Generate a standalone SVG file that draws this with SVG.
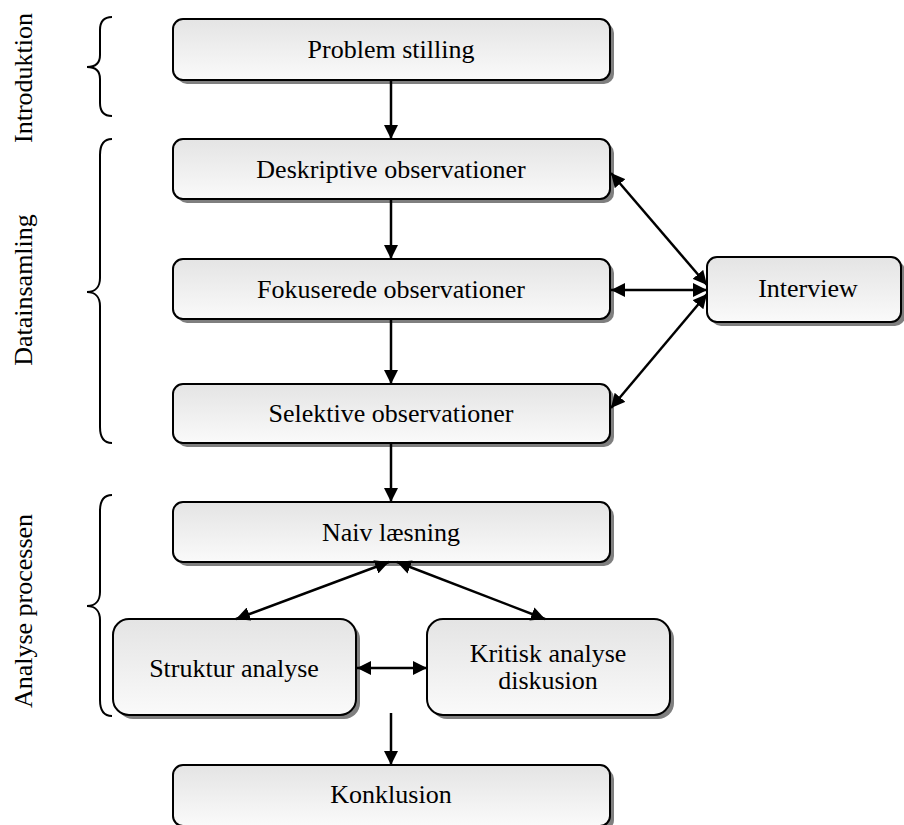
<svg xmlns="http://www.w3.org/2000/svg" width="904" height="825" viewBox="0 0 904 825">
<style>
.sh{fill:#7f7f7f}
.bx{fill:url(#g);stroke:#000;stroke-width:2}
.t{font-family:"Liberation Serif","Times New Roman",serif;font-size:26px;fill:#000;text-anchor:middle}
.c{stroke:#000;stroke-width:2.5;fill:none}
.br{stroke:#000;stroke-width:2;fill:none}
</style>
<defs>
<linearGradient id="g" x1="0" y1="0" x2="0" y2="1">
<stop offset="0" stop-color="#e4e4e4"/>
<stop offset="1" stop-color="#fafafa"/>
</linearGradient>
<marker id="ah" viewBox="0 0 14 14" refX="14" refY="7" markerWidth="14" markerHeight="14" orient="auto-start-reverse" markerUnits="userSpaceOnUse">
<path d="M0,0 L14,7 L0,14 z" fill="#000"/>
</marker>
</defs>

<g id="labels">
<text class="t" transform="translate(32,78) rotate(-90)">Introduktion</text>
<text class="t" transform="translate(32,290) rotate(-90)">Datainsamling</text>
<text class="t" transform="translate(32,611) rotate(-90)">Analyse processen</text>
</g>

<g id="braces">
<path class="br" d="M112,17 C104,17 100,21 100,30 L100,55 C100,63 95,67 87,67 C95,67 100,71 100,79 L100,103 C100,112 104,116 112,116"/>
<path class="br" d="M112,139 C104,139 100,144 100,155 L100,278 C100,287 95,292 87,292 C95,292 100,297 100,306 L100,427 C100,438 104,443 112,443"/>
<path class="br" d="M112,495 C104,495 100,500 100,511 L100,592 C100,601 95,606 87,606 C95,606 100,611 100,620 L100,700 C100,711 104,716 112,716"/>
</g>

<g id="n1">
<rect class="sh" x="177" y="23" width="437" height="61" rx="10"/>
<rect class="bx" x="173" y="19" width="437" height="61" rx="10"/>
<text class="t" x="391" y="58">Problem stilling</text>
</g>
<g id="n2">
<rect class="sh" x="177" y="143" width="437" height="60" rx="10"/>
<rect class="bx" x="173" y="139" width="437" height="60" rx="10"/>
<text class="t" x="391" y="178">Deskriptive observationer</text>
</g>
<g id="n3">
<rect class="sh" x="177" y="263" width="437" height="60" rx="10"/>
<rect class="bx" x="173" y="259" width="437" height="60" rx="10"/>
<text class="t" x="391" y="298">Fokuserede observationer</text>
</g>
<g id="n4">
<rect class="sh" x="177" y="388" width="437" height="59" rx="10"/>
<rect class="bx" x="173" y="384" width="437" height="59" rx="10"/>
<text class="t" x="391" y="422">Selektive observationer</text>
</g>
<g id="n5">
<rect class="sh" x="177" y="506" width="437" height="60" rx="10"/>
<rect class="bx" x="173" y="502" width="437" height="60" rx="10"/>
<text class="t" x="391" y="541">Naiv læsning</text>
</g>
<g id="n6">
<rect class="sh" x="117" y="623" width="243" height="96" rx="16"/>
<rect class="bx" x="113" y="619" width="243" height="96" rx="16"/>
<text class="t" x="234" y="677">Struktur analyse</text>
</g>
<g id="n7">
<rect class="sh" x="431" y="623" width="243" height="96" rx="16"/>
<rect class="bx" x="427" y="619" width="243" height="96" rx="16"/>
<text class="t" x="548" y="662">Kritisk analyse</text>
<text class="t" x="548" y="689">diskusion</text>
</g>
<g id="n8">
<rect class="sh" x="177" y="769" width="437" height="61" rx="10"/>
<rect class="bx" x="173" y="765" width="437" height="61" rx="10"/>
<text class="t" x="391" y="803">Konklusion</text>
</g>
<g id="n9">
<rect class="sh" x="711" y="261" width="194" height="65" rx="10"/>
<rect class="bx" x="707" y="257" width="194" height="65" rx="10"/>
<text class="t" x="808" y="297">Interview</text>
</g>

<g id="connectors">
<line class="c" x1="391" y1="80" x2="391" y2="139" marker-end="url(#ah)"/>
<line class="c" x1="391" y1="199" x2="391" y2="259" marker-end="url(#ah)"/>
<line class="c" x1="391" y1="319" x2="391" y2="384" marker-end="url(#ah)"/>
<line class="c" x1="391" y1="443" x2="391" y2="502" marker-end="url(#ah)"/>
<line class="c" x1="391" y1="713" x2="391" y2="765" marker-end="url(#ah)"/>
<line class="c" x1="707" y1="285" x2="611" y2="173" marker-start="url(#ah)" marker-end="url(#ah)"/>
<line class="c" x1="707" y1="290" x2="611" y2="290" marker-start="url(#ah)" marker-end="url(#ah)"/>
<line class="c" x1="707" y1="294" x2="611" y2="408" marker-start="url(#ah)" marker-end="url(#ah)"/>
<line class="c" x1="389" y1="562" x2="236" y2="619" marker-start="url(#ah)" marker-end="url(#ah)"/>
<line class="c" x1="397" y1="562" x2="545" y2="619" marker-start="url(#ah)" marker-end="url(#ah)"/>
<line class="c" x1="357" y1="668" x2="427" y2="668" marker-start="url(#ah)" marker-end="url(#ah)"/>
</g>
</svg>
